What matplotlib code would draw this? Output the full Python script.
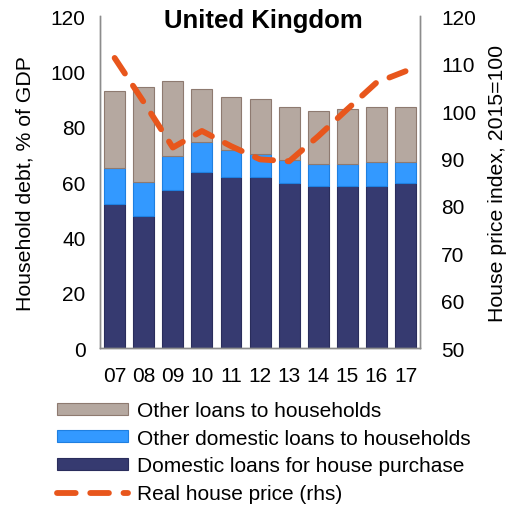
import matplotlib.pyplot as plt
import numpy as np

plt.rcParams["font.family"] = ["Liberation Sans", "DejaVu Sans"]

years = ["07", "08", "09", "10", "11", "12", "13", "14", "15", "16", "17"]
house_purchase = [52.0, 47.7, 57.1, 63.6, 61.8, 61.8, 59.6, 58.6, 58.6, 58.6, 59.6]
other_domestic = [13.0, 12.3, 12.3, 10.9, 9.8, 8.3, 8.3, 7.9, 7.9, 8.6, 7.6]
other_loans = [27.9, 34.3, 27.1, 19.1, 19.1, 19.9, 19.2, 19.1, 19.9, 19.9, 19.9]
house_price = [111.2, 101.9, 92.3, 95.8, 92.6, 89.8, 89.4, 94.7, 100.4, 106.0, 108.4]

NAVY = "#363a70"
BLUE = "#3399ff"
TAUPE = "#b5a8a0"
ORANGE = "#e8561c"


def main() -> None:
    fig = plt.figure(figsize=(5.08, 5.06), dpi=100)
    ax = fig.add_axes([0.197, 0.31, 0.63, 0.656])
    ax2 = ax.twinx()

    x = np.arange(len(years))
    w = 0.72
    hp = np.array(house_purchase)
    od = np.array(other_domestic)
    b1 = ax.bar(x, hp, w, color=NAVY, edgecolor="#2a2d5c", linewidth=0.8)
    b2 = ax.bar(x, od, w, bottom=hp, color=BLUE, edgecolor="#1f7fe0", linewidth=0.8)
    b3 = ax.bar(x, other_loans, w, bottom=hp + od, color=TAUPE, edgecolor="#8e7a70",
                linewidth=0.8)
    (ln,) = ax2.plot(x, house_price, color=ORANGE, linewidth=4.2, linestyle=(0, (3.2, 2.5)),
                     dash_capstyle="round")

    ax.set_xlim(-0.5, len(years) - 0.5)
    ax.set_ylim(0, 120)
    ax.set_yticks(range(0, 121, 20))
    ax2.set_ylim(50, 120)
    ax2.set_yticks(range(50, 121, 10))
    ax.set_xticks(x)
    ax.set_xticklabels(years)

    for a in (ax, ax2):
        a.spines["top"].set_visible(False)
        for s in ("left", "right", "bottom"):
            a.spines[s].set_color("#8c8c8c")
            a.spines[s].set_linewidth(1.0)
        a.tick_params(length=0, labelsize=15)
    ax.tick_params(axis="y", pad=10.5)
    ax2.tick_params(axis="y", pad=15)
    ax.tick_params(axis="x", pad=13)

    ax.set_ylabel("Household debt, % of GDP", fontsize=15.3)
    ax.yaxis.set_label_coords(-0.234, 0.5)
    ax.yaxis.label.set_verticalalignment("center")
    ax2.set_ylabel("House price index, 2015=100", fontsize=15.3)
    ax2.yaxis.set_label_coords(1.241, 0.5)
    ax2.yaxis.label.set_verticalalignment("center")
    ax.text(0.51, 0.99, "United Kingdom", transform=ax.transAxes, ha="center", va="center",
            fontsize=18.5, fontweight="bold")

    fig.legend([b3, b2, b1, ln],
               ["Other loans to households", "Other domestic loans to households",
                "Domestic loans for house purchase", "Real house price (rhs)"],
               loc="upper left", bbox_to_anchor=(57 / 508, 1 - 402 / 506), frameon=False,
               fontsize=15, handlelength=3.4, handleheight=0.5, handletextpad=0.45,
               labelspacing=0.42, borderpad=0, borderaxespad=0)

    fig.savefig("out.png", dpi=100)


if __name__ == "__main__":
    main()
